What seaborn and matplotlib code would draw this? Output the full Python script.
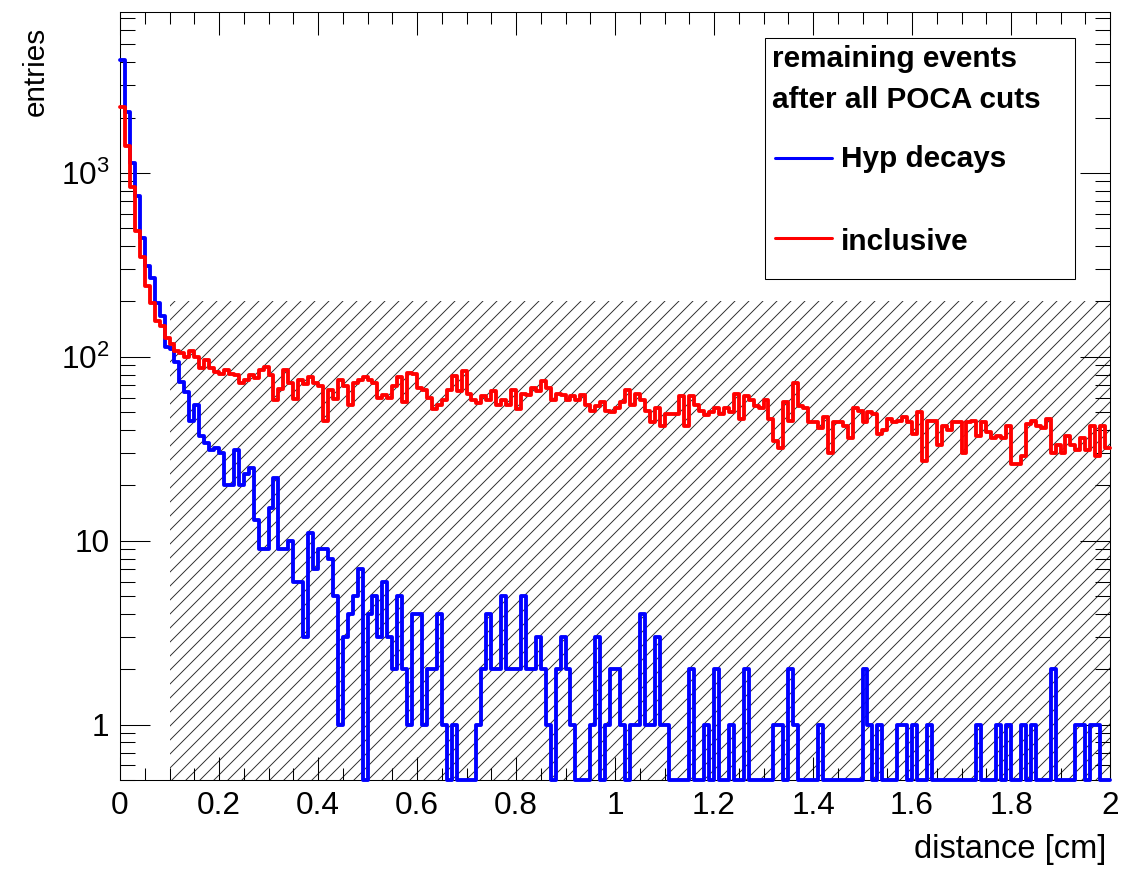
import numpy as np
import pandas as pd
import matplotlib
matplotlib.use("Agg")
import matplotlib.pyplot as plt
import seaborn as sns
from matplotlib.patches import Rectangle
from matplotlib.lines import Line2D
from matplotlib.ticker import MultipleLocator, LogLocator, NullFormatter

# ---------------- data ----------------
X_RANGE = (0.0, 2.0)
N_BINS = 200

hyp_decays = [
    4100, 2150, 1130, 750, 440, 310, 270, 195, 167, 113,
    110, 94, 73, 64, 45, 55, 37, 34, 31, 32,
    30, 20, 20, 31, 20, 23, 25, 13, 9, 9,
    15, 22, 9, 9, 10, 6, 6, 3, 11, 7,
    9, 9, 8, 5, 1, 3, 4, 5, 7, 0,
    4, 5, 3, 6, 3, 2, 5, 2, 1, 4,
    4, 1, 2, 2, 4, 1, 0, 1, 0, 0,
    0, 0, 1, 2, 4, 2, 2, 5, 2, 2,
    2, 5, 2, 2, 3, 2, 1, 0, 2, 3,
    2, 1, 0, 0, 0, 1, 3, 0, 1, 2,
    2, 1, 0, 1, 1, 4, 1, 1, 3, 1,
    1, 0, 0, 0, 0, 2, 0, 0, 1, 0,
    2, 0, 0, 1, 0, 0, 2, 0, 0, 0,
    0, 0, 1, 1, 0, 2, 1, 0, 0, 0,
    0, 1, 0, 0, 0, 0, 0, 0, 0, 0,
    2, 1, 0, 1, 0, 0, 0, 1, 1, 0,
    1, 0, 0, 1, 0, 0, 0, 0, 0, 0,
    0, 0, 0, 1, 0, 0, 0, 1, 0, 1,
    0, 0, 1, 0, 1, 0, 0, 0, 2, 0,
    0, 0, 0, 1, 1, 0, 1, 1, 0, 0,
]

inclusive = [
    2290, 1400, 840, 486, 348, 244, 197, 157, 148, 127,
    118, 107, 105, 100, 107, 100, 87, 96, 87, 83,
    81, 85, 81, 80, 72, 75, 80, 77, 85, 88,
    80, 58, 67, 85, 72, 59, 75, 71, 78, 72,
    69, 45, 66, 59, 75, 69, 55, 72, 75, 78,
    75, 72, 60, 62, 60, 69, 78, 57, 82, 81,
    68, 66, 60, 52, 55, 58, 66, 79, 65, 84,
    63, 58, 56, 61, 58, 65, 55, 58, 55, 66,
    52, 63, 62, 68, 65, 74, 68, 58, 63, 62,
    58, 61, 58, 62, 55, 51, 54, 57, 51, 50,
    53, 57, 66, 55, 63, 58, 51, 44, 53, 42,
    49, 49, 49, 61, 42, 61, 55, 51, 48, 50,
    53, 49, 53, 50, 63, 46, 61, 58, 54, 53,
    58, 46, 35, 32, 57, 45, 72, 54, 53, 44,
    44, 41, 47, 30, 44, 44, 42, 36, 53, 51,
    44, 50, 49, 38, 40, 46, 44, 45, 47, 44,
    38, 50, 27, 45, 45, 33, 42, 40, 44, 44,
    30, 44, 45, 37, 44, 39, 36, 37, 36, 42,
    26, 26, 29, 43, 45, 42, 41, 46, 30, 33,
    30, 37, 33, 31, 36, 31, 42, 29, 42, 32,
]

series_labels = ["Hyp decays", "inclusive"]
series_colors = ["#0000ff", "#ff0000"]
legend_title = ["remaining events", "after all POCA cuts"]

cut_x = (0.1, 2.0)
cut_y = (0.5, 200)
y_range = (0.5, 7500)

x_major = [0, 0.2, 0.4, 0.6, 0.8, 1.0, 1.2, 1.4, 1.6, 1.8, 2.0]
x_tick_labels = ["0", "0.2", "0.4", "0.6", "0.8", "1", "1.2", "1.4", "1.6", "1.8", "2"]
y_major = [1, 10, 100, 1000]
y_tick_labels = ["1", "10", r"$10^{2}$", r"$10^{3}$"]
x_title = "distance [cm]"
y_title = "entries"

# ---------------- figure ----------------
W, H, DPI = 1121, 871, 84
sns.set_theme(style="ticks")
plt.rcParams["font.family"] = ["Liberation Sans", "DejaVu Sans"]
plt.rcParams["mathtext.fontset"] = "custom"
plt.rcParams["mathtext.rm"] = "Liberation Sans"
plt.rcParams["mathtext.it"] = "Liberation Sans:italic"
plt.rcParams["mathtext.bf"] = "Liberation Sans:bold"
plt.rcParams["hatch.linewidth"] = 0.8
plt.rcParams["axes.linewidth"] = 0.9
plt.rcParams["text.color"] = "black"
plt.rcParams["axes.labelcolor"] = "black"
plt.rcParams["xtick.color"] = "black"
plt.rcParams["ytick.color"] = "black"

fig = plt.figure(figsize=(W / DPI, H / DPI), dpi=DPI)
fig.patch.set_facecolor("white")
ax = fig.add_axes([120 / W, (H - 780) / H, 990 / W, 768 / H])
ax.set_facecolor("white")

edges = np.linspace(X_RANGE[0], X_RANGE[1], N_BINS + 1)
centers = 0.5 * (edges[:-1] + edges[1:])
df = pd.DataFrame({
    "distance": np.concatenate([centers, centers]),
    "entries": np.concatenate([hyp_decays, inclusive]).astype(float),
    "sample": [series_labels[0]] * N_BINS + [series_labels[1]] * N_BINS,
})
# empty bins are drawn on the lower frame edge, as ROOT does on a log axis
df["drawn"] = np.where(df["entries"] > 0, df["entries"], y_range[0])

# hatched cut region
ax.fill_between(list(cut_x), cut_y[0], cut_y[1], facecolor="none",
                edgecolor="#2a2a2a", hatch="//", linewidth=0, zorder=0.5)

for label, color in zip(series_labels, series_colors):
    sub = df[df["sample"] == label]
    sns.histplot(data=sub, x="distance", weights="drawn", bins=N_BINS,
                 binrange=X_RANGE, element="step", fill=False, color=color,
                 linewidth=3.3, ax=ax, zorder=3)
    ax.lines[-1].set_clip_on(False)

ax.set_yscale("log")
ax.set_xlim(*X_RANGE)
ax.set_ylim(*y_range)

ax.set_xticks(x_major, x_tick_labels)
ax.xaxis.set_minor_locator(MultipleLocator(0.05))
ax.set_yticks(y_major, y_tick_labels)
ax.yaxis.set_minor_locator(LogLocator(base=10, subs=np.arange(2, 10), numticks=30))
ax.yaxis.set_minor_formatter(NullFormatter())

ax.tick_params(which="both", direction="in", top=True, right=True,
               width=0.9, color="black", labelsize=27, labelcolor="black")
ax.tick_params(axis="x", which="major", length=19.5, pad=9)
ax.tick_params(axis="x", which="minor", length=10)
ax.tick_params(axis="y", which="major", length=25.5, pad=9)
ax.tick_params(axis="y", which="minor", length=12.5)
for s in ax.spines.values():
    s.set_color("black")
    s.set_linewidth(0.9)

ax.set_xlabel(x_title, fontsize=28, loc="right", color="black")
ax.xaxis.set_label_coords((1106 - 120) / 990, (780 - 834) / 768)
ax.set_ylabel(y_title, fontsize=25.5, loc="top", color="black")
ax.yaxis.set_label_coords((50 - 120) / 990, (780 - 27) / 768)

# legend box (ROOT TLegend look)
def fx(x):
    return x / W

def fy(y):
    return 1 - y / H

fig.add_artist(Rectangle((fx(765), fy(279)), fx(1075) - fx(765), fy(38) - fy(279),
                         transform=fig.transFigure, facecolor="white",
                         edgecolor="black", linewidth=0.9, zorder=10))
lf = dict(fontsize=25.5, fontweight="bold", color="black", zorder=11,
          ha="left", va="baseline", transform=fig.transFigure)
fig.text(fx(772), fy(67), legend_title[0], **lf)
fig.text(fx(772), fy(108), legend_title[1], **lf)
for (label, color, ly, ty) in [(series_labels[0], series_colors[0], 158, 167),
                                (series_labels[1], series_colors[1], 238, 250)]:
    fig.add_artist(Line2D([fx(775), fx(832)], [fy(ly), fy(ly)], color=color,
                          linewidth=2.6, transform=fig.transFigure, zorder=11))
    fig.text(fx(841), fy(ty), label, **lf)

fig.savefig("out.png", dpi=DPI)
